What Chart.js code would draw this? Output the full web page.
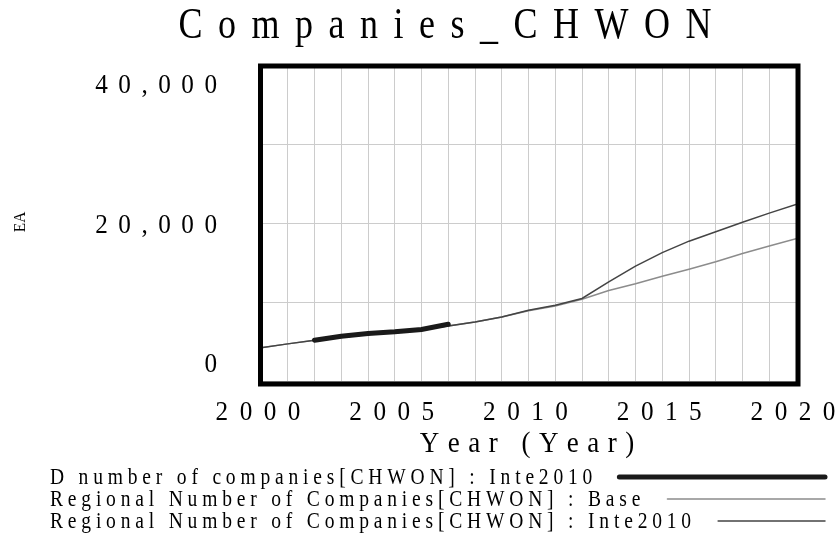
<!DOCTYPE html>
<html>
<head>
<meta charset="utf-8">
<title>Companies_CHWON</title>
<script src="https://cdn.jsdelivr.net/npm/chart.js@4.4.0/dist/chart.umd.min.js"></script>
<style>
  html, body { margin: 0; padding: 0; background: #fff; }
  #wrap { width: 836px; height: 538px; }
</style>
</head>
<body>
<div id="wrap"><canvas id="myChart" width="836" height="538"></canvas></div>
<script>
// values
var years = [2000, 2001, 2002, 2003, 2004, 2005, 2006, 2007, 2008, 2009, 2010,
             2011, 2012, 2013, 2014, 2015, 2016, 2017, 2018, 2019, 2020];
var baseValues = [4200, 4700, 5150, 5550, 5900, 6250, 6600, 6950, 7480, 8100, 8900,
                  9500, 10350, 11450, 12300, 13250, 14150, 15100, 16150, 17100, 18000];
var inteValues = [4200, 4700, 5150, 5550, 5900, 6250, 6600, 6950, 7480, 8100, 8950,
                  9600, 10450, 12550, 14550, 16250, 17700, 18900, 20100, 21250, 22350];
var dYears = [2002, 2003, 2004, 2005, 2006, 2007];
var dValues = [5170, 5670, 6010, 6220, 6520, 7190];

var yLabels = [0, 20000, 40000];
var xLabels = [2000, 2005, 2010, 2015, 2020];

var chartTitle = "Companies_CHWON";
var xTitle = "Year (Year)";
var yTitle = "EA";
var seriesNames = [
    "D number of companies[CHWON] : Inte2010",
    "Regional Number of Companies[CHWON] : Base",
    "Regional Number of Companies[CHWON] : Inte2010"
];

function toPoints(xs, ys){
    return xs.map(function(x, i){ return {x: x, y: ys[i]}; });
}

function fmt(n){
    return n.toString().replace(/\B(?=(\d{3})+(?!\d))/g, ",");
}

// Vensim draws its text condensed and widely spaced, so draw glyph by glyph
function spacedWidth(ctx, text, sx, gap){
    var w = 0;
    for (var i = 0; i < text.length; i++){
        w += ctx.measureText(text[i]).width * sx;
        if (i < text.length - 1) w += gap;
    }
    return w;
}

function spacedText(ctx, text, x, y, align, sx, gap){
    var w = spacedWidth(ctx, text, sx, gap);
    var pos = align == "right" ? x - w : (align == "center" ? x - w / 2 : x);
    ctx.textAlign = "left";
    for (var i = 0; i < text.length; i++){
        ctx.save();
        ctx.translate(pos, y);
        ctx.scale(sx, 1);
        ctx.fillText(text[i], 0, 0);
        ctx.restore();
        pos += ctx.measureText(text[i]).width * sx + gap;
    }
    return w;
}

var serif = "'Liberation Serif', 'Times New Roman', serif";

var vensimText = {
    id: "vensimText",
    afterDraw: function(chart){
        var ctx = chart.ctx;
        var area = chart.chartArea;
        var xs = chart.scales.x, ys = chart.scales.y;
        ctx.save();
        ctx.fillStyle = "#000";
        ctx.textBaseline = "alphabetic";

        // frame
        ctx.strokeStyle = "#000";
        ctx.lineWidth = 5;
        ctx.strokeRect(area.left - 0.5, area.top + 1, area.right - area.left + 2.5, area.bottom - area.top + 2);

        // title
        ctx.font = "45px " + serif;
        spacedText(ctx, chartTitle, 445, 38, "center", 0.8, 15.5);

        // y tick labels
        ctx.font = "28px " + serif;
        yLabels.forEach(function(v){
            var y = ys.getPixelForValue(v) + 9.5;
            y = Math.max(area.top + 28, Math.min(area.bottom - 9, y));
            spacedText(ctx, fmt(v), 217, y, "right", 0.9, 10.5);
        });

        // x tick labels
        xLabels.forEach(function(v){
            spacedText(ctx, String(v), xs.getPixelForValue(v) - 3, 420, "center", 0.9, 11.5);
        });

        // axis titles
        ctx.font = "30px " + serif;
        spacedText(ctx, xTitle, 527, 452, "center", 0.9, 8.5);

        ctx.save();
        ctx.translate(25, 222);
        ctx.rotate(-Math.PI / 2);
        ctx.font = "17px " + serif;
        spacedText(ctx, yTitle, 0, 0, "center", 0.9, 0);
        ctx.restore();

        // legend
        var ds = chart.data.datasets;
        var rows = [484, 506, 528];
        ctx.font = "23px " + serif;
        seriesNames.forEach(function(name, i){
            var w = spacedText(ctx, name, 50, rows[i], "left", 0.85, 4.8);
            ctx.beginPath();
            ctx.strokeStyle = ds[i].borderColor;
            ctx.lineWidth = ds[i].borderWidth;
            ctx.lineCap = "round";
            ctx.moveTo(50 + w + 27, rows[i] - 7);
            ctx.lineTo(825, rows[i] - 7);
            ctx.stroke();
        });
        ctx.restore();
    }
};

new Chart(document.getElementById("myChart"), {
    type: "line",
    data: {
        datasets: [{
            label: seriesNames[0],
            data: toPoints(dYears, dValues),
            borderColor: "#1a1a1a",
            borderWidth: 5,
            borderCapStyle: "round",
            pointRadius: 0,
            order: 0
        }, {
            label: seriesNames[1],
            data: toPoints(years, baseValues),
            borderColor: "#8c8c8c",
            borderWidth: 1.5,
            pointRadius: 0,
            order: 2
        }, {
            label: seriesNames[2],
            data: toPoints(years, inteValues),
            borderColor: "#444444",
            borderWidth: 1.5,
            pointRadius: 0,
            order: 1
        }]
    },
    options: {
        responsive: false,
        animation: false,
        devicePixelRatio: 1,
        layout: { padding: { left: 261, right: 40, top: 65, bottom: 157 } },
        plugins: {
            legend: { display: false },
            title: { display: false },
            tooltip: { enabled: false }
        },
        scales: {
            x: {
                type: "linear", min: 2000, max: 2020,
                ticks: { display: false, stepSize: 1 },
                grid: { color: "#cccccc", lineWidth: 1, drawTicks: false },
                border: { display: false }
            },
            y: {
                min: 0, max: 40000,
                ticks: { display: false, stepSize: 10000 },
                grid: { color: "#cccccc", lineWidth: 1, drawTicks: false },
                border: { display: false }
            }
        }
    },
    plugins: [vensimText]
});
</script>
</body>
</html>
